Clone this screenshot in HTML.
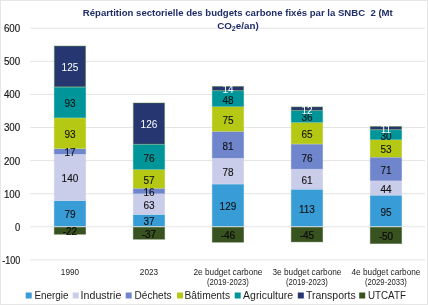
<!DOCTYPE html>
<html><head><meta charset="utf-8"><style>
html,body{margin:0;padding:0;background:#fff;}
body{width:428px;height:305px;overflow:hidden;position:relative;}
.frame{position:absolute;left:0;top:0;width:428px;height:305px;box-sizing:border-box;border:1px solid #e6e6e6;}
svg{position:absolute;left:0;top:0;will-change:transform;}
text{font-family:"Liberation Sans",sans-serif;}
.ax{font-size:10px;fill:#161616;stroke:#161616;stroke-width:0.15px;}
.lb{font-size:10px;}
.xl{font-size:8.3px;fill:#222;}
.lg{font-size:10px;fill:#1e1e1e;}
.tt{font-size:9.8px;font-weight:bold;fill:#1f2d68;}
</style></head><body>
<svg width="428" height="305" viewBox="0 0 428 305">
<line x1="30" x2="425" y1="259.90" y2="259.90" stroke="#e4e4e4" stroke-width="1"/>
<text x="20.2" y="263.80" text-anchor="end" class="ax" textLength="18.0" lengthAdjust="spacingAndGlyphs">-100</text>
<line x1="30" x2="425" y1="226.80" y2="226.80" stroke="#e4e4e4" stroke-width="1"/>
<text x="20.2" y="230.70" text-anchor="end" class="ax" textLength="5.2" lengthAdjust="spacingAndGlyphs">0</text>
<line x1="30" x2="425" y1="193.70" y2="193.70" stroke="#e4e4e4" stroke-width="1"/>
<text x="20.2" y="197.60" text-anchor="end" class="ax" textLength="16.3" lengthAdjust="spacingAndGlyphs">100</text>
<line x1="30" x2="425" y1="160.60" y2="160.60" stroke="#e4e4e4" stroke-width="1"/>
<text x="20.2" y="164.50" text-anchor="end" class="ax" textLength="16.3" lengthAdjust="spacingAndGlyphs">200</text>
<line x1="30" x2="425" y1="127.50" y2="127.50" stroke="#e4e4e4" stroke-width="1"/>
<text x="20.2" y="131.40" text-anchor="end" class="ax" textLength="16.3" lengthAdjust="spacingAndGlyphs">300</text>
<line x1="30" x2="425" y1="94.40" y2="94.40" stroke="#e4e4e4" stroke-width="1"/>
<text x="20.2" y="98.30" text-anchor="end" class="ax" textLength="16.3" lengthAdjust="spacingAndGlyphs">400</text>
<line x1="30" x2="425" y1="61.30" y2="61.30" stroke="#e4e4e4" stroke-width="1"/>
<text x="20.2" y="65.20" text-anchor="end" class="ax" textLength="16.3" lengthAdjust="spacingAndGlyphs">500</text>
<line x1="30" x2="425" y1="28.20" y2="28.20" stroke="#e4e4e4" stroke-width="1"/>
<text x="20.2" y="32.10" text-anchor="end" class="ax" textLength="16.3" lengthAdjust="spacingAndGlyphs">600</text>
<rect x="54.30" y="200.95" width="31.30" height="25.05" fill="#389cd6" stroke="#389cd6" stroke-width="0.9" stroke-opacity="0.5"/>
<rect x="54.30" y="154.61" width="31.30" height="45.74" fill="#c9cdea" stroke="#c9cdea" stroke-width="0.9" stroke-opacity="0.5"/>
<rect x="54.30" y="148.98" width="31.30" height="5.03" fill="#7086cc" stroke="#7086cc" stroke-width="0.9" stroke-opacity="0.5"/>
<rect x="54.30" y="118.20" width="31.30" height="30.18" fill="#b4c814" stroke="#b4c814" stroke-width="0.9" stroke-opacity="0.5"/>
<rect x="54.30" y="87.42" width="31.30" height="30.18" fill="#009599" stroke="#009599" stroke-width="0.9" stroke-opacity="0.5"/>
<rect x="54.30" y="46.04" width="31.30" height="40.77" fill="#263670" stroke="#5a8a3a" stroke-width="0.9" stroke-opacity="0.5"/>
<rect x="54.30" y="227.35" width="31.30" height="6.88" fill="#38531f" stroke="#38531f" stroke-width="0.9" stroke-opacity="0.5"/>
<rect x="133.30" y="214.85" width="31.30" height="11.15" fill="#389cd6" stroke="#389cd6" stroke-width="0.9" stroke-opacity="0.5"/>
<rect x="133.30" y="194.00" width="31.30" height="20.25" fill="#c9cdea" stroke="#c9cdea" stroke-width="0.9" stroke-opacity="0.5"/>
<rect x="133.30" y="188.70" width="31.30" height="4.70" fill="#7086cc" stroke="#7086cc" stroke-width="0.9" stroke-opacity="0.5"/>
<rect x="133.30" y="169.84" width="31.30" height="18.27" fill="#b4c814" stroke="#b4c814" stroke-width="0.9" stroke-opacity="0.5"/>
<rect x="133.30" y="144.68" width="31.30" height="24.56" fill="#009599" stroke="#009599" stroke-width="0.9" stroke-opacity="0.5"/>
<rect x="133.30" y="102.98" width="31.30" height="41.11" fill="#263670" stroke="#5a8a3a" stroke-width="0.9" stroke-opacity="0.5"/>
<rect x="133.30" y="227.35" width="31.30" height="11.85" fill="#38531f" stroke="#38531f" stroke-width="0.9" stroke-opacity="0.5"/>
<rect x="212.30" y="184.40" width="31.30" height="41.60" fill="#389cd6" stroke="#389cd6" stroke-width="0.9" stroke-opacity="0.5"/>
<rect x="212.30" y="158.58" width="31.30" height="25.22" fill="#c9cdea" stroke="#c9cdea" stroke-width="0.9" stroke-opacity="0.5"/>
<rect x="212.30" y="131.77" width="31.30" height="26.21" fill="#7086cc" stroke="#7086cc" stroke-width="0.9" stroke-opacity="0.5"/>
<rect x="212.30" y="106.95" width="31.30" height="24.23" fill="#b4c814" stroke="#b4c814" stroke-width="0.9" stroke-opacity="0.5"/>
<rect x="212.30" y="91.06" width="31.30" height="15.29" fill="#009599" stroke="#009599" stroke-width="0.9" stroke-opacity="0.5"/>
<rect x="212.30" y="86.42" width="31.30" height="4.03" fill="#263670" stroke="#5a8a3a" stroke-width="0.9" stroke-opacity="0.5"/>
<rect x="212.30" y="227.35" width="31.30" height="14.83" fill="#38531f" stroke="#38531f" stroke-width="0.9" stroke-opacity="0.5"/>
<rect x="291.30" y="189.70" width="31.30" height="36.30" fill="#389cd6" stroke="#389cd6" stroke-width="0.9" stroke-opacity="0.5"/>
<rect x="291.30" y="169.51" width="31.30" height="19.59" fill="#c9cdea" stroke="#c9cdea" stroke-width="0.9" stroke-opacity="0.5"/>
<rect x="291.30" y="144.35" width="31.30" height="24.56" fill="#7086cc" stroke="#7086cc" stroke-width="0.9" stroke-opacity="0.5"/>
<rect x="291.30" y="122.84" width="31.30" height="20.91" fill="#b4c814" stroke="#b4c814" stroke-width="0.9" stroke-opacity="0.5"/>
<rect x="291.30" y="110.92" width="31.30" height="11.32" fill="#009599" stroke="#009599" stroke-width="0.9" stroke-opacity="0.5"/>
<rect x="291.30" y="106.95" width="31.30" height="3.37" fill="#263670" stroke="#5a8a3a" stroke-width="0.9" stroke-opacity="0.5"/>
<rect x="291.30" y="227.35" width="31.30" height="14.49" fill="#38531f" stroke="#38531f" stroke-width="0.9" stroke-opacity="0.5"/>
<rect x="370.30" y="195.66" width="31.30" height="30.34" fill="#389cd6" stroke="#389cd6" stroke-width="0.9" stroke-opacity="0.5"/>
<rect x="370.30" y="181.09" width="31.30" height="13.96" fill="#c9cdea" stroke="#c9cdea" stroke-width="0.9" stroke-opacity="0.5"/>
<rect x="370.30" y="157.59" width="31.30" height="22.90" fill="#7086cc" stroke="#7086cc" stroke-width="0.9" stroke-opacity="0.5"/>
<rect x="370.30" y="140.05" width="31.30" height="16.94" fill="#b4c814" stroke="#b4c814" stroke-width="0.9" stroke-opacity="0.5"/>
<rect x="370.30" y="130.12" width="31.30" height="9.33" fill="#009599" stroke="#009599" stroke-width="0.9" stroke-opacity="0.5"/>
<rect x="370.30" y="126.48" width="31.30" height="3.04" fill="#263670" stroke="#5a8a3a" stroke-width="0.9" stroke-opacity="0.5"/>
<rect x="370.30" y="227.35" width="31.30" height="16.15" fill="#38531f" stroke="#38531f" stroke-width="0.9" stroke-opacity="0.5"/>
<text x="69.95" y="218.38" text-anchor="middle" class="lb" fill="#111" stroke="#111" stroke-width="0.12">79</text>
<text x="69.95" y="182.38" text-anchor="middle" class="lb" fill="#111" stroke="#111" stroke-width="0.12">140</text>
<text x="69.95" y="156.40" text-anchor="middle" class="lb" fill="#111" stroke="#111" stroke-width="0.12">17</text>
<text x="69.95" y="138.19" text-anchor="middle" class="lb" fill="#111" stroke="#111" stroke-width="0.12">93</text>
<text x="69.95" y="107.41" text-anchor="middle" class="lb" fill="#111" stroke="#111" stroke-width="0.12">93</text>
<text x="69.95" y="71.33" text-anchor="middle" class="lb" fill="#fff" stroke="#fff" stroke-width="0">125</text>
<text x="69.95" y="235.09" text-anchor="middle" class="lb" fill="#0c0c0c" stroke="#0c0c0c" stroke-width="0.2">-22</text>
<text x="148.95" y="225.33" text-anchor="middle" class="lb" fill="#111" stroke="#111" stroke-width="0.12">37</text>
<text x="148.95" y="209.03" text-anchor="middle" class="lb" fill="#111" stroke="#111" stroke-width="0.12">63</text>
<text x="148.95" y="195.95" text-anchor="middle" class="lb" fill="#111" stroke="#111" stroke-width="0.12">16</text>
<text x="148.95" y="183.87" text-anchor="middle" class="lb" fill="#111" stroke="#111" stroke-width="0.12">57</text>
<text x="148.95" y="161.86" text-anchor="middle" class="lb" fill="#111" stroke="#111" stroke-width="0.12">76</text>
<text x="148.95" y="128.43" text-anchor="middle" class="lb" fill="#fff" stroke="#fff" stroke-width="0">126</text>
<text x="148.95" y="237.57" text-anchor="middle" class="lb" fill="#0c0c0c" stroke="#0c0c0c" stroke-width="0.2">-37</text>
<text x="227.95" y="210.10" text-anchor="middle" class="lb" fill="#111" stroke="#111" stroke-width="0.12">129</text>
<text x="227.95" y="176.09" text-anchor="middle" class="lb" fill="#111" stroke="#111" stroke-width="0.12">78</text>
<text x="227.95" y="149.78" text-anchor="middle" class="lb" fill="#111" stroke="#111" stroke-width="0.12">81</text>
<text x="227.95" y="123.96" text-anchor="middle" class="lb" fill="#111" stroke="#111" stroke-width="0.12">75</text>
<text x="227.95" y="103.60" text-anchor="middle" class="lb" fill="#111" stroke="#111" stroke-width="0.12">48</text>
<text x="227.95" y="93.34" text-anchor="middle" class="lb" fill="#fff" stroke="#fff" stroke-width="0">14</text>
<text x="227.95" y="239.06" text-anchor="middle" class="lb" fill="#0c0c0c" stroke="#0c0c0c" stroke-width="0.2">-46</text>
<text x="306.95" y="212.75" text-anchor="middle" class="lb" fill="#111" stroke="#111" stroke-width="0.12">113</text>
<text x="306.95" y="184.20" text-anchor="middle" class="lb" fill="#111" stroke="#111" stroke-width="0.12">61</text>
<text x="306.95" y="161.53" text-anchor="middle" class="lb" fill="#111" stroke="#111" stroke-width="0.12">76</text>
<text x="306.95" y="138.19" text-anchor="middle" class="lb" fill="#111" stroke="#111" stroke-width="0.12">65</text>
<text x="306.95" y="121.48" text-anchor="middle" class="lb" fill="#111" stroke="#111" stroke-width="0.12">36</text>
<text x="306.95" y="113.53" text-anchor="middle" class="lb" fill="#fff" stroke="#fff" stroke-width="0">12</text>
<text x="306.95" y="238.90" text-anchor="middle" class="lb" fill="#0c0c0c" stroke="#0c0c0c" stroke-width="0.2">-45</text>
<text x="385.95" y="215.73" text-anchor="middle" class="lb" fill="#111" stroke="#111" stroke-width="0.12">95</text>
<text x="385.95" y="192.97" text-anchor="middle" class="lb" fill="#111" stroke="#111" stroke-width="0.12">44</text>
<text x="385.95" y="173.94" text-anchor="middle" class="lb" fill="#111" stroke="#111" stroke-width="0.12">71</text>
<text x="385.95" y="153.42" text-anchor="middle" class="lb" fill="#111" stroke="#111" stroke-width="0.12">53</text>
<text x="385.95" y="139.68" text-anchor="middle" class="lb" fill="#111" stroke="#111" stroke-width="0.12">30</text>
<text x="385.95" y="132.90" text-anchor="middle" class="lb" fill="#fff" stroke="#fff" stroke-width="0">11</text>
<text x="385.95" y="239.73" text-anchor="middle" class="lb" fill="#0c0c0c" stroke="#0c0c0c" stroke-width="0.2">-50</text>
<text x="69.95" y="274.6" text-anchor="middle" class="xl" textLength="18.2" lengthAdjust="spacingAndGlyphs" style="font-size:8.4px">1990</text>
<text x="148.95" y="274.6" text-anchor="middle" class="xl" textLength="18.2" lengthAdjust="spacingAndGlyphs" style="font-size:8.4px">2023</text>
<text x="227.95" y="274.6" text-anchor="middle" class="xl" textLength="69" lengthAdjust="spacingAndGlyphs">2e budget carbone</text>
<text x="227.95" y="284.6" text-anchor="middle" class="xl" textLength="42" lengthAdjust="spacingAndGlyphs">(2019-2023)</text>
<text x="306.95" y="274.6" text-anchor="middle" class="xl" textLength="69" lengthAdjust="spacingAndGlyphs">3e budget carbone</text>
<text x="306.95" y="284.6" text-anchor="middle" class="xl" textLength="42" lengthAdjust="spacingAndGlyphs">(2019-2023)</text>
<text x="385.95" y="274.6" text-anchor="middle" class="xl" textLength="69" lengthAdjust="spacingAndGlyphs">4e budget carbone</text>
<text x="385.95" y="284.6" text-anchor="middle" class="xl" textLength="42" lengthAdjust="spacingAndGlyphs">(2029-2033)</text>
<rect x="25.7" y="292.5" width="6" height="6" fill="#389cd6"/>
<text x="34.4" y="299" class="lg" textLength="34.2" lengthAdjust="spacingAndGlyphs">Energie</text>
<rect x="72.7" y="292.5" width="6" height="6" fill="#c9cdea"/>
<text x="80.6" y="299" class="lg" textLength="40.8" lengthAdjust="spacingAndGlyphs">Industrie</text>
<rect x="125.7" y="292.5" width="6" height="6" fill="#7086cc"/>
<text x="134.5" y="299" class="lg" textLength="37" lengthAdjust="spacingAndGlyphs">Déchets</text>
<rect x="177" y="292.5" width="6" height="6" fill="#b4c814"/>
<text x="184.5" y="299" class="lg" textLength="45.5" lengthAdjust="spacingAndGlyphs">Bâtiments</text>
<rect x="234.7" y="292.5" width="6" height="6" fill="#009599"/>
<text x="243.1" y="299" class="lg" textLength="50" lengthAdjust="spacingAndGlyphs">Agriculture</text>
<rect x="297.8" y="292.5" width="6" height="6" fill="#263670"/>
<text x="305.9" y="299" class="lg" textLength="49.8" lengthAdjust="spacingAndGlyphs">Transports</text>
<rect x="359.2" y="292.5" width="6" height="6" fill="#38531f"/>
<text x="367.9" y="299" class="lg" textLength="38" lengthAdjust="spacingAndGlyphs">UTCATF</text>
<text x="237.8" y="16.0" text-anchor="middle" class="tt" xml:space="preserve" textLength="310" lengthAdjust="spacingAndGlyphs">Répartition sectorielle des budgets carbone fixés par la SNBC  2 (Mt</text>
<text x="237.9" y="29.4" text-anchor="middle" class="tt" textLength="41.5" lengthAdjust="spacingAndGlyphs">CO<tspan font-size="7" dy="2">2</tspan><tspan dy="-2">e/an)</tspan></text>
</svg>
<div class="frame"></div>
</body></html>
